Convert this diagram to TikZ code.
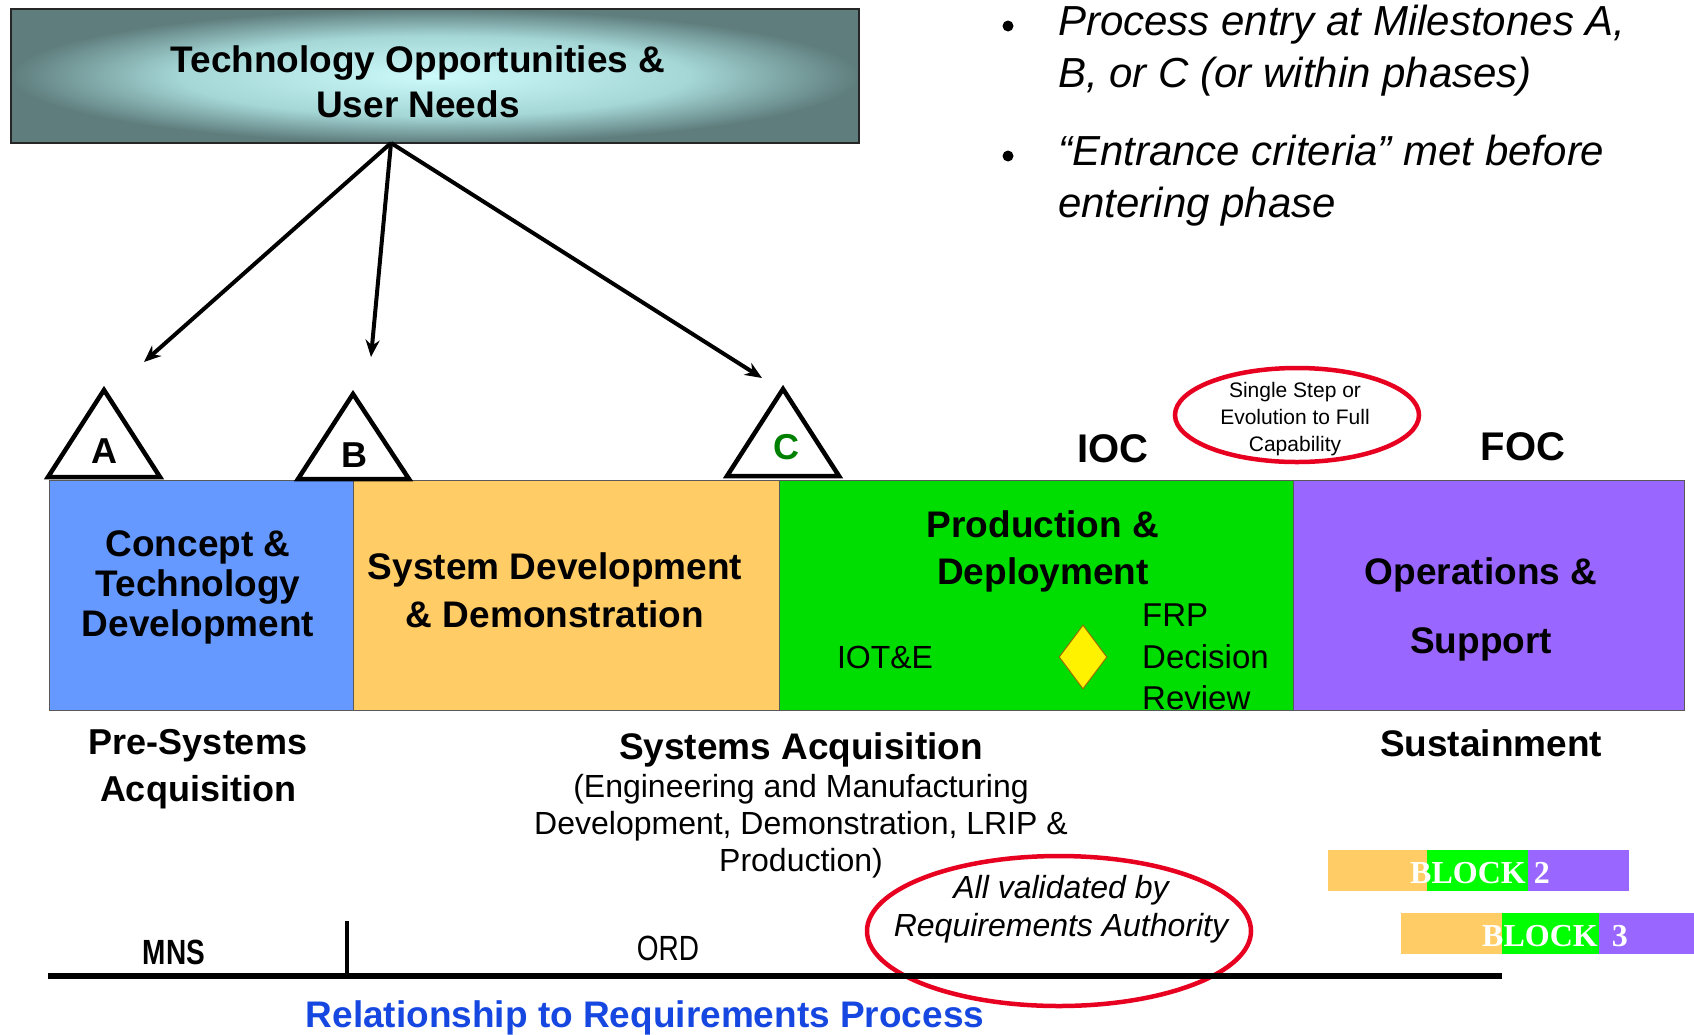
\documentclass[tikz,border=0pt]{standalone}
\usepackage{fontspec}
\setmainfont{Liberation Sans}
\newfontfamily\narrowfont[FakeStretch=0.8]{Liberation Sans}
\newfontfamily\blockfont{Liberation Serif}
\usetikzlibrary{arrows.meta,shapes.geometric}
\definecolor{cblue}{RGB}{102,153,255}
\definecolor{corange}{RGB}{255,204,102}
\definecolor{cgreen}{RGB}{0,221,0}
\definecolor{bgreen}{RGB}{0,255,0}
\definecolor{cpurple}{RGB}{153,102,255}
\definecolor{cred}{RGB}{232,0,32}
\definecolor{ctitle}{RGB}{22,72,225}
\definecolor{cletter}{RGB}{0,128,0}
\definecolor{boxlight}{RGB}{205,250,250}
\definecolor{boxmid}{RGB}{165,215,215}
\definecolor{boxdark}{RGB}{95,125,125}
\definecolor{dmdedge}{RGB}{150,110,0}
\pgfdeclareradialshading{boxshade}{\pgfpoint{0bp}{0bp}}{color(0bp)=(boxlight); color(15bp)=(boxmid); color(25bp)=(boxdark); color(50bp)=(boxdark)}
\newcommand\myfs[2]{\fontsize{#1}{#2}\selectfont}
\begin{document}
\begin{tikzpicture}[x=1pt,y=-1pt,
  txt/.style={inner sep=0pt, align=center},
  phasebox/.style={draw=black!65, line width=1pt, inner sep=0pt, anchor=north west},
  blk/.style={inner sep=0pt, anchor=north west, draw=none},
  milestone/.style={draw=black, fill=white, line width=4.5pt, line join=miter},
  arr/.style={line width=4pt, -{Stealth[length=17pt,width=14pt]}},
  redring/.style={draw=cred, line width=4.5pt, ellipse, inner sep=0pt}]

\useasboundingbox (0,0) rectangle (1694,1034);

% top box
\node[draw=black!85, line width=1.5pt, minimum width=848pt, minimum height=134pt,
      inner sep=0pt, shading=boxshade] (top) at (435,76) {};
\node[txt, font=\bfseries\myfs{37}{45}] (toptext) at (418,82)
  {Technology Opportunities \&\\User Needs};

% arrows
\coordinate (src) at (391,143);
\coordinate (tA) at (144,362);
\coordinate (tB) at (371,357);
\coordinate (tC) at (762,378);
\draw[arr] (src) -- (tA);
\draw[arr] (src) -- (tB);
\draw[arr] (src) -- (tC);

% bullets
\node[circle, fill=black, minimum size=11pt, inner sep=0pt] (d1) at (1008,26) {};
\node[circle, fill=black, minimum size=11pt, inner sep=0pt] (d2) at (1008,156) {};
\node[txt, align=left, anchor=west, font=\itshape\myfs{42}{52}] (bt1) at (1058,51)
  {Process entry at Milestones A,\\B, or C (or within phases)};
\node[txt, align=left, anchor=west, font=\itshape\myfs{42}{52}] (bt2) at (1058,181)
  {\char"201C Entrance criteria\char"201D\ met before\\entering phase};

% phases
\node[phasebox, fill=cblue, minimum width=304pt, minimum height=230pt] (p1) at (49,480) {};
\node[phasebox, fill=corange, minimum width=426pt, minimum height=230pt] (p2) at (353,480) {};
\node[phasebox, fill=cgreen, minimum width=514pt, minimum height=230pt] (p3) at (779,480) {};
\node[phasebox, fill=cpurple, minimum width=391pt, minimum height=230pt] (p4) at (1293,480) {};

\node[txt, font=\bfseries\myfs{37}{40}] (t1) at (198,587)
  {Concept \&\\Technology\\Development};
\node[txt, font=\bfseries\myfs{37}{48}] (t2) at (555,590)
  {System Development\\\& Demonstration};
\node[txt, font=\bfseries\myfs{37}{47}] (t3) at (1043,551)
  {Production \&\\Deployment};
\node[txt, font=\myfs{32}{32}] (iote) at (885,657) {IOT\&E};
\node[diamond, draw=dmdedge, fill=yellow, line width=1pt, minimum width=48pt,
      minimum height=64pt, inner sep=0pt] (frp) at (1083,657) {};
\node[txt, align=left, anchor=west, font=\myfs{33}{41.5}] (frpt) at (1142,657)
  {FRP\\Decision\\Review};
\node[txt, font=\bfseries\myfs{37}{69}] (t4) at (1481,609)
  {Operations \&\\Support};

% milestones
\draw[milestone] (48,477) -- (104,390) -- (160,477) -- cycle;
\draw[milestone] (298,479) -- (353,394) -- (409,479) -- cycle;
\draw[milestone] (727,476) -- (783,389) -- (839,476) -- cycle;
\node[txt, font=\bfseries\myfs{36}{36}] (mA) at (104,451) {A};
\node[txt, font=\bfseries\myfs{36}{36}] (mB) at (354,455) {B};
\node[txt, font=\bfseries\myfs{36}{36}, text=cletter] (mC) at (786,447) {C};

% IOC / FOC
\node[txt, font=\bfseries\myfs{40}{40}] (ioc) at (1113,449) {IOC};
\node[txt, font=\bfseries\myfs{40}{40}] (foc) at (1523,447) {FOC};

% single step ellipse
\node[redring, minimum width=244pt, minimum height=94pt] (ring1) at (1297,415) {};
\node[txt, font=\myfs{21}{27}] (ring1t) at (1295,419)
  {Single Step or\\Evolution to Full\\Capability};

% lower labels
\node[txt, font=\bfseries\myfs{36}{47}] (pre) at (198,769) {Pre-Systems\\Acquisition};
\node[txt, font=\bfseries\myfs{37}{37}] (sa) at (801,750) {Systems Acquisition};
\node[txt, font=\myfs{32}{37}] (sasub) at (801,826)
  {(Engineering and Manufacturing\\Development, Demonstration, LRIP \&\\Production)};
\node[txt, font=\bfseries\myfs{37}{37}] (sus) at (1491,743) {Sustainment};

% blocks
\node[blk, fill=corange, minimum width=99pt, minimum height=41pt] (b2a) at (1328,850) {};
\node[blk, fill=bgreen, minimum width=101pt, minimum height=41pt] (b2b) at (1427,850) {};
\node[blk, fill=cpurple, minimum width=101pt, minimum height=41pt] (b2c) at (1528,850) {};
\node[blk, fill=corange, minimum width=101pt, minimum height=41pt] (b3a) at (1401,913) {};
\node[blk, fill=bgreen, minimum width=97pt, minimum height=41pt] (b3b) at (1502,913) {};
\node[blk, fill=cpurple, minimum width=95pt, minimum height=41pt] (b3c) at (1599,913) {};
\node[txt, anchor=west, text=white, font=\blockfont\bfseries\myfs{32}{32}] (b2t) at (1410,873) {BLOCK 2};
\node[txt, anchor=west, text=white, font=\blockfont\bfseries\myfs{32}{32}] (b3t) at (1482,936) {BLOCK\hspace{14pt}3};

% requirements ellipse
\node[redring, minimum width=384pt, minimum height=150pt] (ring2) at (1059,931) {};
\node[txt, font=\itshape\myfs{32}{38}] (ring2t) at (1061,909)
  {All validated by\\Requirements Authority};

% baseline
\coordinate (r0) at (48,976);
\coordinate (r1) at (1502,976);
\coordinate (k0) at (347,976);
\coordinate (k1) at (347,921);
\draw[line width=6pt] (r0) -- (r1);
\draw[line width=4.5pt] (k0) -- (k1);
\node[txt, font=\narrowfont\bfseries\myfs{35}{35}] (mns) at (174,952) {MNS};
\node[txt, font=\narrowfont\myfs{35}{35}] (ord) at (668,948) {ORD};
\node[txt, text=ctitle, font=\bfseries\myfs{37}{37}] (rel) at (645,1018)
  {Relationship to Requirements Process};
\end{tikzpicture}
\end{document}
